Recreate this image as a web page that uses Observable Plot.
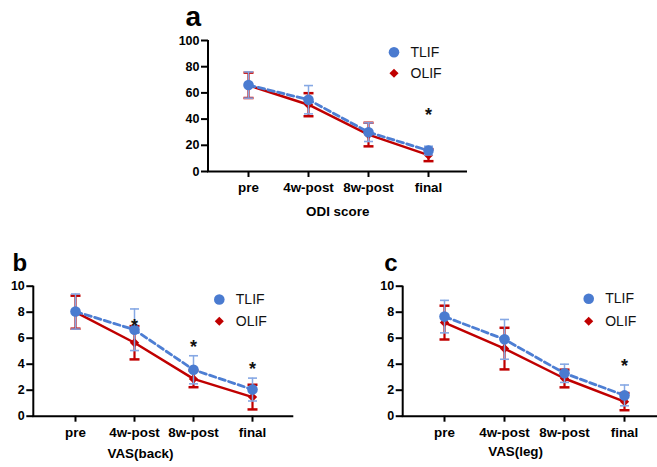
<!DOCTYPE html>
<html><head><meta charset="utf-8">
<script src="https://cdn.jsdelivr.net/npm/d3@7"></script>
<script src="https://cdn.jsdelivr.net/npm/@observablehq/plot@0.6"></script>
<style>
html,body{margin:0;padding:0;background:#fff;overflow:hidden}
#root{position:relative;width:657px;height:467px;overflow:hidden;background:#fff}
#root svg{position:absolute}
</style></head><body><div id="root"></div>
<script>
const FONT = '"Liberation Sans", Arial, Helvetica, sans-serif';
const categories = ["pre", "4w-post", "8w-post", "final"];
const groups = ["TLIF", "OLIF"];

// ODI score
const odiTLIF = [66, 54.8, 30, 16];
const odiTLIFsd = [10, 10.8, 7.1, 3.3];
const odiOLIF = [65.8, 51, 28.2, 12.5];
const odiOLIFsd = [9.7, 8.8, 9, 4.6];
const odiStarCats = ["final"];
const odiStarY = [46.6];

// VAS(back)
const backTLIF = [8.05, 6.65, 3.57, 2.05];
const backTLIFsd = [1.35, 1.6, 1.08, 0.88];
const backOLIF = [8.0, 5.65, 2.87, 1.47];
const backOLIFsd = [1.27, 1.28, 0.64, 0.95];
const backStarCats = ["4w-post", "8w-post", "final"];
const backStarY = [7.3, 5.65, 3.98];

// VAS(leg)
const legTLIF = [7.66, 5.91, 3.3, 1.6];
const legTLIFsd = [1.25, 1.53, 0.7, 0.8];
const legOLIF = [7.2, 5.2, 2.9, 1.12];
const legOLIFsd = [1.3, 1.6, 0.68, 0.66];
const legStarCats = ["final"];
const legStarY = [4.2];

const odiTicks = [0, 20, 40, 60, 80, 100];
const vasTicks = [0, 2, 4, 6, 8, 10];

const BLUE = "#4a7bd0", BLUE_LINE = "#4d7ed3", BLUE_ERR = "#86a8e4", RED = "#c00000";

const panels = [
  {letter: "a", title: "ODI score", tlif: odiTLIF, tlifSd: odiTLIFsd, olif: odiOLIF, olifSd: odiOLIFsd,
   starCats: odiStarCats, starY: odiStarY, yMax: 100, ticks: odiTicks,
   left: 150, top: 0, width: 330, height: 230, mL: 58, mT: 40, mB: 59, mR: 13, pad: 0.655,
   letterSize: 28, letterDx: -15.3, letterDy: -23.6, titleDx: -0.3, titleDy: 40, legDy: [11.7, 32.7]},
  {letter: "b", title: "VAS(back)", tlif: backTLIF, tlifSd: backTLIFsd, olif: backOLIF, olifSd: backOLIFsd,
   starCats: backStarCats, starY: backStarY, yMax: 10, ticks: vasTicks,
   left: 0, top: 250, width: 310, height: 217, mL: 33.3, mT: 35.7, mB: 51.3, mR: 16.7, pad: 0.667,
   letterSize: 24, letterDx: -14, letterDy: -23.3, titleDx: -23.3, titleDy: 38, legDy: [13.3, 35]},
  {letter: "c", title: "VAS(leg)", tlif: legTLIF, tlifSd: legTLIFsd, olif: legOLIF, olifSd: legOLIFsd,
   starCats: legStarCats, starY: legStarY, yMax: 10, ticks: vasTicks,
   left: 360, top: 250, width: 310, height: 217, mL: 42.7, mT: 35.7, mB: 51.3, mR: 4.5, pad: 0.69,
   letterSize: 24, letterDx: -12.4, letterDy: -23.3, titleDx: -19, titleDy: 35.5, legDy: [12.6, 35]}
];

// horizontal cap symbol for error bars
const cap = (hw) => ({draw(ctx) { ctx.moveTo(-hw, 0); ctx.lineTo(hw, 0); }});

function build(p) {
  const rows = (vals, sds) => categories.map((c, i) => ({cat: c, v: vals[i], lo: vals[i] - sds[i], hi: vals[i] + sds[i]}));
  const T = rows(p.tlif, p.tlifSd), O = rows(p.olif, p.olifSd);
  const stars = p.starCats.map((c, i) => ({cat: c, y: p.starY[i]}));
  const yAxisLine = (index, scales, values, dims) => {
    const l = document.createElementNS("http://www.w3.org/2000/svg", "line");
    l.setAttribute("x1", dims.marginLeft); l.setAttribute("x2", dims.marginLeft);
    l.setAttribute("y1", dims.marginTop); l.setAttribute("y2", dims.height - dims.marginBottom + 1);
    l.setAttribute("stroke", "#000"); l.setAttribute("stroke-width", 2);
    return l;
  };
  const chart = Plot.plot({
    width: p.width, height: p.height,
    marginLeft: p.mL, marginTop: p.mT, marginBottom: p.mB, marginRight: p.mR,
    style: {fontFamily: FONT, background: "transparent", overflow: "visible", color: "#000"},
    x: {type: "point", domain: categories, padding: p.pad, axis: null, label: null},
    y: {domain: [0, p.yMax], axis: null, label: null},
    marks: [
      Plot.ruleY([0], {stroke: "#000", strokeWidth: 2, insetLeft: -1}),
      yAxisLine,
      Plot.axisY({ticks: p.ticks, tickSize: 7, tickPadding: 2, strokeWidth: 2, stroke: "#000",
        fontSize: 12.5, fontWeight: "bold", label: null}),
      Plot.axisX({tickSize: 6, tickPadding: 5, strokeWidth: 2, stroke: "#000",
        fontSize: 13.4, fontWeight: "bold", label: null}),
      // OLIF
      Plot.ruleX(O, {x: "cat", y1: "lo", y2: "hi", stroke: RED, strokeWidth: 2.2}),
      Plot.dot(O, {x: "cat", y: "hi", symbol: cap(5), fill: "none", stroke: RED, strokeWidth: 2.5}),
      Plot.dot(O, {x: "cat", y: "lo", symbol: cap(5), fill: "none", stroke: RED, strokeWidth: 2.5}),
      Plot.line(O, {x: "cat", y: "v", stroke: RED, strokeWidth: 2.5}),
      Plot.dot(O, {x: "cat", y: "v", symbol: "diamond2", r: 4.2, fill: RED}),
      // TLIF
      Plot.line(T, {x: "cat", y: "v", stroke: BLUE_LINE, strokeWidth: 2.8, strokeDasharray: "6.5,3.5"}),
      Plot.ruleX(T, {x: "cat", y1: "lo", y2: "hi", stroke: BLUE_ERR, strokeWidth: 1.5}),
      Plot.dot(T, {x: "cat", y: "hi", symbol: cap(4.5), fill: "none", stroke: BLUE_ERR, strokeWidth: 1.6}),
      Plot.dot(T, {x: "cat", y: "lo", symbol: cap(4.5), fill: "none", stroke: BLUE_ERR, strokeWidth: 1.6}),
      Plot.dot(T, {x: "cat", y: "v", r: 5.3, fill: BLUE}),
      // significance
      Plot.text(stars, {x: "cat", y: "y", text: () => "*", fontSize: 18, fontWeight: "bold", lineAnchor: "middle", dy: 4.6, fill: "#111"}),
      // legend
      Plot.dot([groups[0]], {frameAnchor: "top-left", dx: 185.5, dy: p.legDy[0], r: 5.3, fill: BLUE}),
      Plot.dot([groups[1]], {frameAnchor: "top-left", dx: 185.5, dy: p.legDy[1], r: 4.1, symbol: "diamond2", fill: RED}),
      Plot.text([groups[0]], {frameAnchor: "top-left", dx: 202, dy: p.legDy[0], text: d => d, textAnchor: "start", lineAnchor: "middle", fontSize: 14, fill: "#111"}),
      Plot.text([groups[1]], {frameAnchor: "top-left", dx: 202, dy: p.legDy[1], text: d => d, textAnchor: "start", lineAnchor: "middle", fontSize: 14, fill: "#111"}),
      // axis title
      Plot.text([p.title], {frameAnchor: "bottom", dx: p.titleDx, dy: p.titleDy, text: d => d, textAnchor: "middle", lineAnchor: "middle", fontSize: 13.4, fontWeight: "bold"}),
      // panel letter
      Plot.text([p.letter], {frameAnchor: "top-left", dx: p.letterDx, dy: p.letterDy, text: d => d, textAnchor: "middle", lineAnchor: "middle", fontSize: p.letterSize, fontWeight: "bold"})
    ]
  });
  chart.style.left = p.left + "px";
  chart.style.top = p.top + "px";
  return chart;
}

const root = document.getElementById("root");
for (const p of panels) root.appendChild(build(p));
</script>
</body></html>
